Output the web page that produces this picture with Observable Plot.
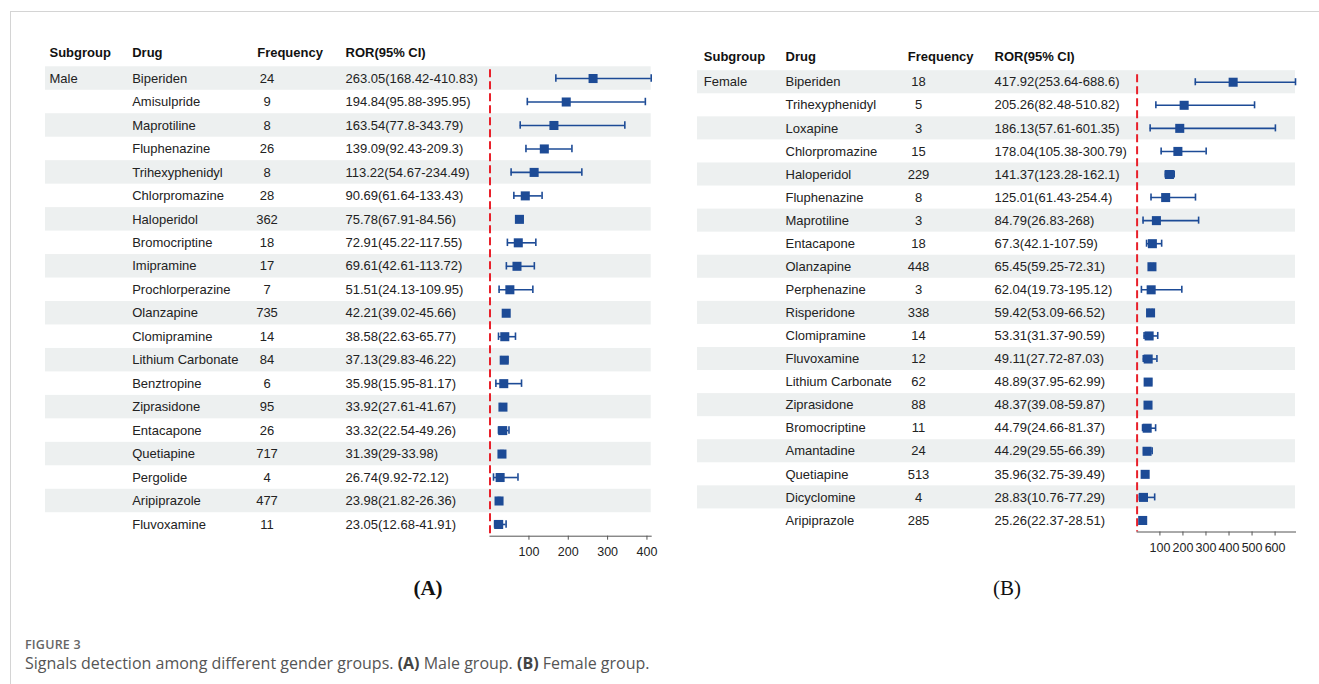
<!DOCTYPE html>
<html>
<head>
<meta charset="utf-8">
<script src="https://cdn.jsdelivr.net/npm/d3@7"></script>
<script src="https://cdn.jsdelivr.net/npm/@observablehq/plot@0.6"></script>
<style>
  html, body { margin: 0; padding: 0; background: #fff; }
  #page { position: relative; width: 1319px; height: 684px; overflow: hidden; font-family: "Liberation Sans", Arial, sans-serif; }
  #border { position: absolute; left: 10px; top: 11px; width: 1309px; height: 673px; border-left: 1px solid #d4d4d4; border-top: 1px solid #d4d4d4; box-sizing: border-box; }
  .panel { position: absolute; top: 0; }
  .tag { position: absolute; font-family: "Liberation Serif", "Times New Roman", serif; font-size: 21px; color: #111; transform: translate(-50%, -50%); white-space: nowrap; }
  #figlabel { position: absolute; left: 25px; top: 638px; line-height: 14px; font-family: "Open Sans", "Noto Sans", sans-serif; font-size: 12.5px; font-weight: 600; color: #666; letter-spacing: 0.2px; }
  #caption { position: absolute; left: 25px; top: 653px; line-height: 20px; font-family: "Open Sans", "Noto Sans", sans-serif; font-size: 16px; color: #555; white-space: nowrap; }
  #caption b { color: #444; }
</style>
</head>
<body>
<div id="page">
  <div id="border"></div>
  <div id="panelA" class="panel" style="left:0px"></div>
  <div id="panelB" class="panel" style="left:660px"></div>
  <div class="tag" style="left:428px; top:588px; font-weight:bold">(A)</div>
  <div class="tag" style="left:1007px; top:588px">(B)</div>
  <div id="figlabel">FIGURE 3</div>
  <div id="caption">Signals detection among different gender groups. <b>(A)</b> Male group. <b>(B)</b> Female group.</div>
</div>
<script>
// ---------- data ----------
const headers = ["Subgroup", "Drug", "Frequency", "ROR(95% CI)"];

const maleSubgroup = "Male";
const maleDrugs = ["Biperiden","Amisulpride","Maprotiline","Fluphenazine","Trihexyphenidyl","Chlorpromazine","Haloperidol","Bromocriptine","Imipramine","Prochlorperazine","Olanzapine","Clomipramine","Lithium Carbonate","Benztropine","Ziprasidone","Entacapone","Quetiapine","Pergolide","Aripiprazole","Fluvoxamine"];
const maleFreq = [24,9,8,26,8,28,362,18,17,7,735,14,84,6,95,26,717,4,477,11];
const maleROR = [263.05,194.84,163.54,139.09,113.22,90.69,75.78,72.91,69.61,51.51,42.21,38.58,37.13,35.98,33.92,33.32,31.39,26.74,23.98,23.05];
const maleLo = [168.42,95.88,77.8,92.43,54.67,61.64,67.91,45.22,42.61,24.13,39.02,22.63,29.83,15.95,27.61,22.54,29,9.92,21.82,12.68];
const maleHi = [410.83,395.95,343.79,209.3,234.49,133.43,84.56,117.55,113.72,109.95,45.66,65.77,46.22,81.17,41.67,49.26,33.98,72.12,26.36,41.91];
const maleTicks = [100,200,300,400];

const femaleSubgroup = "Female";
const femaleDrugs = ["Biperiden","Trihexyphenidyl","Loxapine","Chlorpromazine","Haloperidol","Fluphenazine","Maprotiline","Entacapone","Olanzapine","Perphenazine","Risperidone","Clomipramine","Fluvoxamine","Lithium Carbonate","Ziprasidone","Bromocriptine","Amantadine","Quetiapine","Dicyclomine","Aripiprazole"];
const femaleFreq = [18,5,3,15,229,8,3,18,448,3,338,14,12,62,88,11,24,513,4,285];
const femaleROR = [417.92,205.26,186.13,178.04,141.37,125.01,84.79,67.3,65.45,62.04,59.42,53.31,49.11,48.89,48.37,44.79,44.29,35.96,28.83,25.26];
const femaleLo = [253.64,82.48,57.61,105.38,123.28,61.43,26.83,42.1,59.25,19.73,53.09,31.37,27.72,37.95,39.08,24.66,29.55,32.75,10.76,22.37];
const femaleHi = [688.6,510.82,601.35,300.79,162.1,254.4,268,107.59,72.31,195.12,66.52,90.59,87.03,62.99,59.87,81.37,66.39,39.49,77.29,28.51];
const femaleTicks = [100,200,300,400,500,600];

// ---------- styles ----------
const BLUE = "#1d4b96";
const RED = "#e8202a";
const STRIPE = "#edf0f0";
const FONT = "'Liberation Sans', Arial, sans-serif";

function rowsOf(subgroup, drugs, freq, ror, lo, hi) {
  return drugs.map((d, i) => ({
    i,
    subgroup: i === 0 ? subgroup : "",
    drug: d,
    freq: freq[i],
    ror: ror[i],
    lo: lo[i],
    hi: hi[i],
    label: `${ror[i]}(${lo[i]}-${hi[i]})`
  }));
}

function forest(rows, ticks, L) {
  const textCols = [
    {field: "subgroup", dx: L.cSub, anchor: "start"},
    {field: "drug", dx: L.cDrug, anchor: "start"},
    {field: "freq", dx: L.cFreqVal, anchor: "middle"},
    {field: "label", dx: L.cROR, anchor: "start"}
  ];
  const headDx = [L.cSub, L.cDrug, L.cFreq, L.cROR];
  return Plot.plot({
    width: L.width,
    height: L.height,
    marginLeft: L.ml,
    marginRight: L.mr,
    marginTop: L.mt,
    marginBottom: L.mb,
    style: {fontFamily: FONT, fontSize: "13px", color: "#222", background: "transparent", overflow: "visible"},
    x: {domain: [1, rows[0].hi], type: "linear", label: null},
    y: {type: "band", domain: rows.map(d => d.drug), padding: 0, round: false, axis: null},
    marks: [
      Plot.cell(rows.filter(d => d.i % 2 === 0), {y: "drug", fill: STRIPE, insetLeft: L.stripeInset}),
      ...textCols.map(c => Plot.text(rows, {y: "drug", text: c.field, frameAnchor: "left", dx: c.dx, textAnchor: c.anchor, fontSize: 13, fill: "#222"})),
      ...headers.map((h, k) => Plot.text([h], {text: d => d, frameAnchor: "top-left", dx: headDx[k], dy: L.headDy, lineAnchor: "middle", textAnchor: "start", fontWeight: "bold", fontSize: 13, fill: "#111"})),
      Plot.ruleX([1], {stroke: RED, strokeWidth: 2, strokeDasharray: "8,4", insetTop: L.redInset}),
      Plot.ruleY(rows, {y: "drug", x1: "lo", x2: "hi", stroke: BLUE, strokeWidth: 1.6}),
      Plot.tickX(rows, {x: "lo", y: "drug", stroke: BLUE, strokeWidth: 1.6, insetTop: 8, insetBottom: 8}),
      Plot.tickX(rows, {x: "hi", y: "drug", stroke: BLUE, strokeWidth: 1.6, insetTop: 8, insetBottom: 8}),
      Plot.dot(rows, {x: "ror", y: "drug", symbol: "square", r: 5.1, fill: BLUE}),
      Plot.frame({anchor: "bottom", stroke: "#555", strokeWidth: 1}),
      Plot.axisX({ticks, tickSize: 4, tickPadding: 7, fontSize: 12.5, stroke: "#555", fill: "#222", label: null, tickFormat: d => String(d)})
    ]
  });
}

const maleRows = rowsOf(maleSubgroup, maleDrugs, maleFreq, maleROR, maleLo, maleHi);
const femaleRows = rowsOf(femaleSubgroup, femaleDrugs, femaleFreq, femaleROR, femaleLo, femaleHi);

// layout A (page x = svg x)
const LA = {width: 660, height: 566, ml: 489.5, mr: 9.3, mt: 66.3, mb: 30.3,
  cSub: 49 - 489.5, cDrug: 131.7 - 489.5, cFreq: 256.7 - 489.5, cFreqVal: 266.5 - 489.5, cROR: 345 - 489.5,
  headDy: 52.7 - 66.3, stripeInset: -(489.5 - 45), redInset: 3};
// layout B (svg offset 660)
const LB = {width: 644, height: 562, ml: 1136.6 - 660, mr: 9, mt: 70.2, mb: 30.5,
  cSub: 703.3 - 1136.6, cDrug: 785 - 1136.6, cFreq: 907.3 - 1136.6, cFreqVal: 918 - 1136.6, cROR: 994 - 1136.6,
  headDy: 56.7 - 70.2, stripeInset: -(1136.6 - 697), redInset: 4};

document.getElementById("panelA").appendChild(forest(maleRows, maleTicks, LA));
document.getElementById("panelB").appendChild(forest(femaleRows, femaleTicks, LB));
</script>
</body>
</html>
